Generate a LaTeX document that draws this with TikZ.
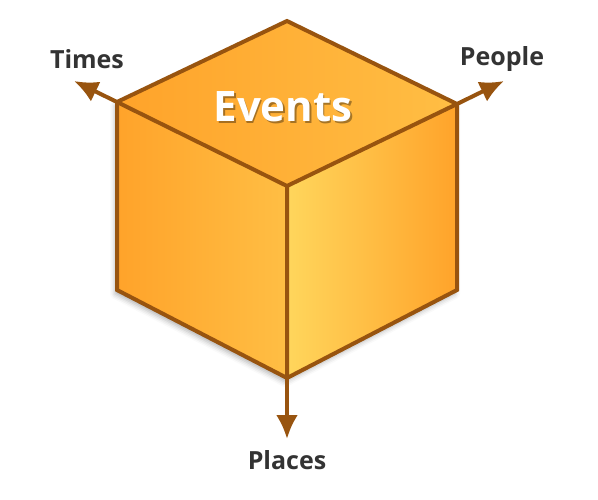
\documentclass[tikz,border=0pt]{standalone}
\usepackage{fontspec}
\setmainfont{Open Sans}
\usetikzlibrary{arrows.meta}
\usetikzlibrary{shadows.blur}
\definecolor{edgebrown}{HTML}{98540F}
\definecolor{labelgrey}{HTML}{333333}
\definecolor{deeporange}{HTML}{FFA32A}
\definecolor{midorange}{HTML}{FFBE44}
\definecolor{paleorange}{HTML}{FFD65C}
\tikzset{
  cube edge/.style={draw=edgebrown, line width=4pt, line join=miter},
  axis arrow/.style={draw=edgebrown, line width=4pt,
    -{Latex[length=24pt,width=22pt]}},
  axis label/.style={font=\bfseries\fontsize{25}{30}\selectfont, text=labelgrey},
}

\begin{document}
\begin{tikzpicture}[x=1pt,y=-1pt]
  \useasboundingbox (0,0) rectangle (598,500);

  % corners of the cube
  \coordinate (top) at (287,21);
  \coordinate (tl) at (117,102);
  \coordinate (tr) at (457,104);
  \coordinate (mid) at (287,186);
  \coordinate (bl) at (117,290);
  \coordinate (br) at (457,290);
  \coordinate (bot) at (287,378);

  % free ends of the axes
  \coordinate (times end) at (74,81);
  \coordinate (people end) at (504,81);
  \coordinate (places end) at (287,439);

  % soft shadow under the cube
  \fill[white, blur shadow={shadow xshift=-2pt, shadow yshift=-4pt,
      shadow blur radius=5pt, shadow opacity=30}]
    (top) -- (tr) -- (br) -- (bot) -- (bl) -- (tl) -- cycle;

  % faces
  \shade[left color=deeporange, right color=midorange]
    (top) -- (tr) -- (mid) -- (tl) -- cycle;
  \shade[left color=deeporange, right color=midorange]
    (tl) -- (mid) -- (bot) -- (bl) -- cycle;
  \shade[left color=paleorange, right color=deeporange]
    (mid) -- (tr) -- (br) -- (bot) -- cycle;

  % edges
  \draw[cube edge] (top) -- (tr) -- (br) -- (bot) -- (bl) -- (tl) -- cycle;
  \draw[cube edge] (tl) -- (mid) -- (tr) (mid) -- (bot);

  % axes
  \draw[axis arrow] (tl) -- (times end);
  \draw[axis arrow] (tr) -- (people end);
  \draw[axis arrow] (bot) -- (places end);

  % labels
  \node[axis label] (times) at (87,59) {Times};
  \node[axis label] (people) at (502,59) {People};
  \node[axis label] (places) at (287,460) {Places};

  \node[font=\bfseries\fontsize{42}{48}\selectfont, text=black, opacity=0.35]
    (events shadow) at (284.5,108.5) {Events};
  \node[font=\bfseries\fontsize{42}{48}\selectfont, text=white]
    (events) at (283,107) {Events};
\end{tikzpicture}
\end{document}
